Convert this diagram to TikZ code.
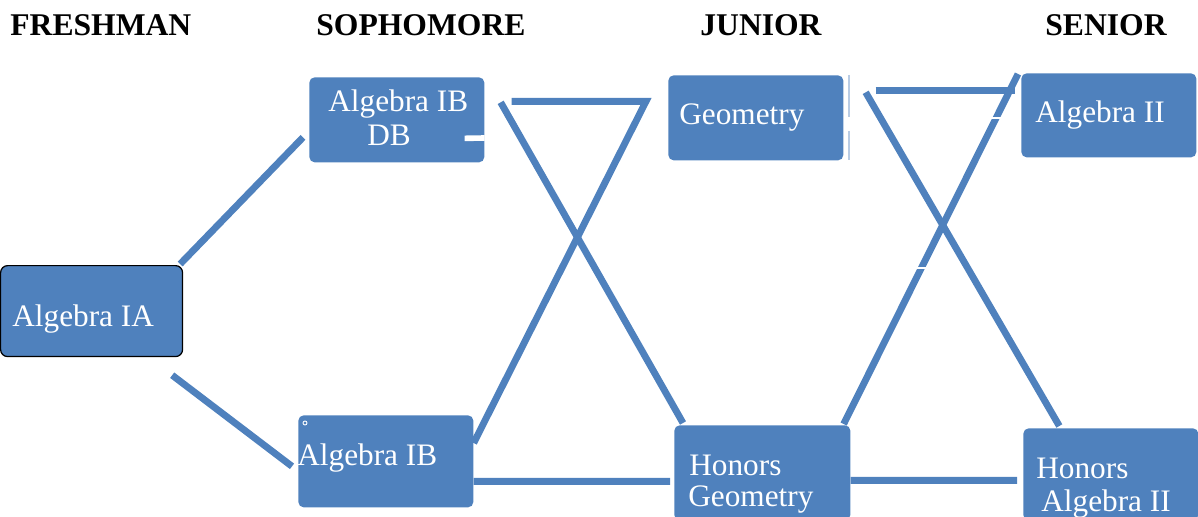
\documentclass[tikz,border=0pt]{standalone}
\usepackage{fontspec}
\setmainfont{Liberation Serif}
\definecolor{courseblue}{HTML}{4F81BD}
\definecolor{paleblue}{HTML}{B9CCE4}
\tikzset{
  course/.style={fill=courseblue, rounded corners=3pt, inner sep=0pt, anchor=north west},
  ctext/.style={text=white, font=\fontsize{17.8}{21}\selectfont, inner sep=0pt, anchor=base west},
  year/.style={font=\bfseries\fontsize{18}{21}\selectfont, inner sep=0pt, anchor=base west},
  link/.style={draw=courseblue, line width=3.9pt},
  gap/.style={draw=white, line width=1.2pt}
}
\begin{document}
\begin{tikzpicture}[x=0.02cm,y=-0.02cm]
  \useasboundingbox (0,0) rectangle (1198,517);
  %
  \node[year] (fresh) at (10,36) {FRESHMAN};
  \node[year] (soph) at (316,36) {SOPHOMORE};
  \node[year] (jun) at (700,36) {JUNIOR};
  \node[year] (sen) at (1045,36) {SENIOR};
  %
  \node[course, draw=black, line width=0.7pt, rounded corners=4pt, minimum width=3.64cm, minimum height=1.82cm] (ia) at (0,265) {};
  \node[course, minimum width=3.5cm, minimum height=1.7cm] (ibdb) at (309,77) {};
  \node[course, minimum width=3.5cm, minimum height=1.84cm] (ib) at (298,415) {};
  \node[course, minimum width=3.5cm, minimum height=1.7cm] (geo) at (668,75) {};
  \node[course, minimum width=3.52cm, minimum height=1.9cm] (hgeo) at (674,425) {};
  \node[course, minimum width=3.5cm, minimum height=1.68cm] (alg) at (1021,73) {};
  \node[course, minimum width=3.5cm, minimum height=1.84cm] (halg) at (1023,428) {};
  %
  \node[ctext] (iatext) at (12,326) {Algebra IA};
  \node[ctext] (ibdbtext) at (328,112) {Algebra IB};
  \node[ctext] (dbtext) at (367,146) {DB};
  \node[ctext] (ibtext) at (297,465) {Algebra IB};
  \node[ctext] (geotext) at (679,125) {Geometry};
  \node[ctext] (hgeotext) at (689,475) {Honors};
  \node[ctext] (hgeotextb) at (688,506) {Geometry};
  \node[ctext] (algtext) at (1035,123) {Algebra II};
  \node[ctext] (halgtext) at (1036,478) {Honors};
  \node[ctext] (halgtextb) at (1041,511) {Algebra II};
  %
  \draw[link] ([shift={(-3,-1)}]ia.north east) -- ([shift={(-6,17.5)}]ibdb.west);
  \draw[link] ([shift={(-11,18)}]ia.south east) -- ([shift={(-6,5)}]ib.west);
  \draw[link] ([shift={(16,-17.5)}]ibdb.east) -- ([shift={(9,-2)}]hgeo.north west);
  \draw[link] ([shift={(27,-18.5)}]ibdb.east) -- ([shift={(-22,-16.5)}]geo.west)
    -- ([shift={(0,28)}]ib.north east);
  \draw[link] ([shift={(0,20)}]ib.east) -- ([shift={(-4,8.5)}]hgeo.west);
  \draw[link] ([shift={(32,-27.5)}]geo.east) -- ([shift={(-6,-25)}]alg.west);
  \draw[link] ([shift={(-3,1)}]alg.north west) -- ([shift={(-7,-1)}]hgeo.north east);
  \draw[link] ([shift={(22,-25.5)}]geo.east) -- ([shift={(-51.5,-2)}]halg.north);
  \draw[link] ([shift={(0,7.5)}]hgeo.east) -- ([shift={(-6,6)}]halg.west);
  %
  \draw[gap] (989,118) -- (1004,118);
  \draw[gap] (913,268) -- (928,268);
  \draw[draw=white, line width=3.2pt] ([shift={(-20,18.5)}]ibdb.east) -- (ibdb.east |- 0,138);
  \draw[paleblue, line width=0.6pt] (849,75) -- (849,117) (849,131) -- (849,160);
  \draw[white, line width=0.5pt] (305,423) circle (2);
\end{tikzpicture}
\end{document}
